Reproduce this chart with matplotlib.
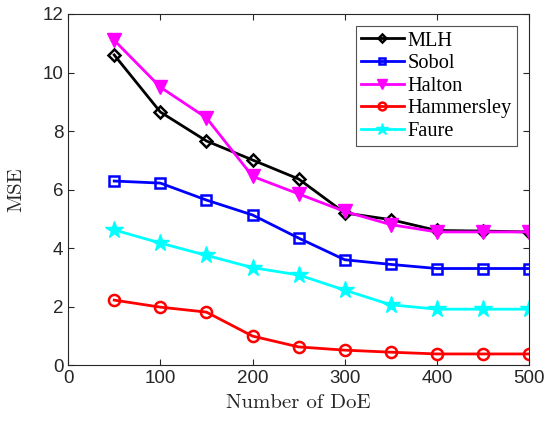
import matplotlib.pyplot as plt
import numpy as np

n_doe = [50, 100, 150, 200, 250, 300, 350, 400, 450, 500]
mlh = [10.6, 8.65, 7.66, 7.01, 6.36, 5.2, 4.97, 4.6, 4.58, 4.55]
sobol = [6.29, 6.22, 5.64, 5.13, 4.34, 3.6, 3.44, 3.3, 3.3, 3.3]
halton = [11.1, 9.5, 8.45, 6.45, 5.85, 5.25, 4.8, 4.55, 4.55, 4.55]
hammersley = [2.22, 1.98, 1.81, 0.99, 0.62, 0.51, 0.44, 0.38, 0.38, 0.38]
faure = [4.62, 4.17, 3.75, 3.33, 3.08, 2.56, 2.06, 1.91, 1.91, 1.91]

series = [("MLH", mlh, "black", "D", 6.5),
          ("Sobol", sobol, "blue", "s", 6.5),
          ("Halton", halton, "magenta", "v", 10),
          ("Hammersley", hammersley, "red", "o", 8),
          ("Faure", faure, "cyan", "*", 13)]

fig = plt.figure(figsize=(5.45, 4.24), dpi=100)
ax = fig.add_axes([0.125, 0.139, 0.846, 0.828])

for name, vals, col, mk, ms in series:
    if mk == "v" or mk == "*":
        ax.plot(n_doe, vals, color=col, marker=mk, ms=ms, lw=2, label=name)
    else:
        ax.plot(n_doe, vals, color=col, marker=mk, ms=ms, lw=2, mfc='none',
                mew=1.8, label=name)

ax.set_xlim(0, 500)
ax.set_ylim(0, 12)
ax.set_xticks(np.arange(0, 501, 100))
ax.set_yticks(np.arange(0, 13, 2))
ax.tick_params(direction='in', top=True, right=True, labelsize=13.5,
               labelcolor='#262626', color='#262626', length=4)
for lab in ax.get_xticklabels() + ax.get_yticklabels():
    lab.set_family('Liberation Sans')
for sp in ax.spines.values():
    sp.set_color('#262626')

ax.set_xlabel('Number of DoE', fontsize=15, family='cmr10', color='#262626', labelpad=5)
ax.set_ylabel('MSE', fontsize=15, family='cmr10', color='#262626', labelpad=12)

leg = ax.legend(loc='upper right', prop={'family': 'Liberation Serif', 'size': 14.7},
                fancybox=False, edgecolor='#262626', handlelength=2.1,
                handletextpad=0.2, borderpad=0.25, labelspacing=0.16,
                borderaxespad=0.6, markerscale=0.7)
leg.get_frame().set_linewidth(0.8)

plt.savefig('out.png', dpi=100)
